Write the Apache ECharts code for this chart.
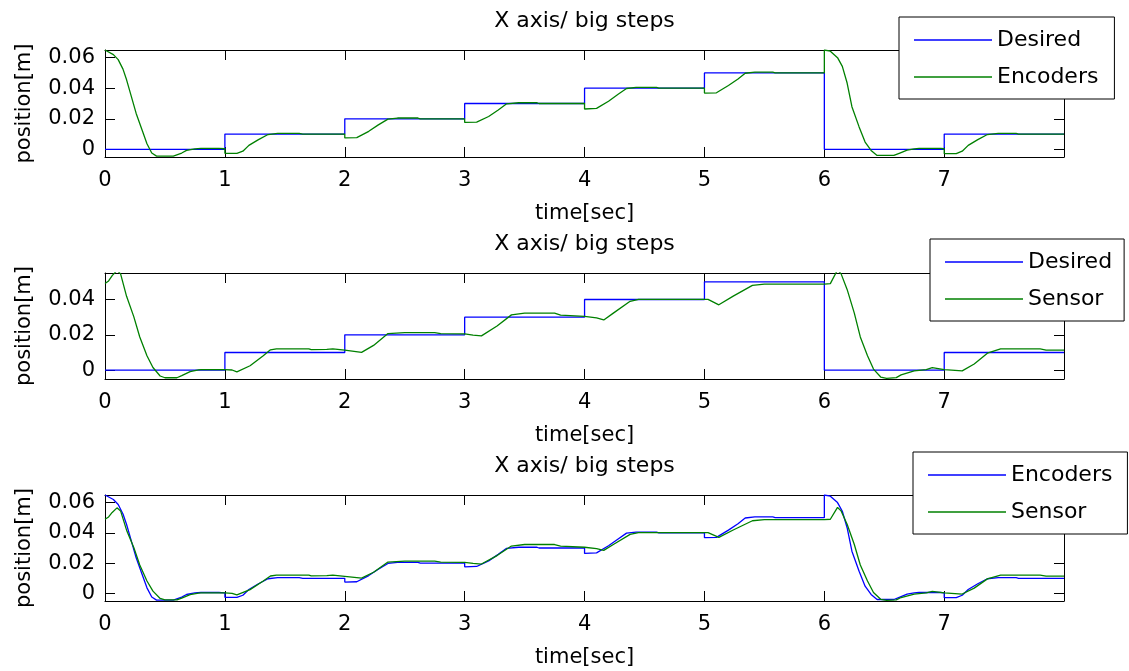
<!DOCTYPE html>
<html>
<head>
<meta charset="utf-8">
<title>X axis / big steps</title>
<script src="https://cdn.jsdelivr.net/npm/echarts@6/dist/echarts.min.js"></script>
<style>
html, body { margin: 0; padding: 0; background: #fff; }
#chart { width: 1129px; height: 671px; }
</style>
</head>
<body>
<div id="chart"></div>
<script>
// values: [time, position]
var desired = [[0, 0], [1, 0.01], [2, 0.02], [3, 0.03], [4, 0.04], [5, 0.05], [6, 0], [7, 0.01], [7.999, 0.01]];

var encoders = [
  [0, 0.065], [0.07, 0.062], [0.11, 0.0587], [0.15, 0.0525], [0.18, 0.0455], [0.22, 0.0345], [0.26, 0.0235],
  [0.31, 0.0125], [0.35, 0.0037], [0.39, -0.0024], [0.43, -0.0044], [0.57, -0.0044], [0.64, -0.0024],
  [0.68, -0.0007], [0.75, 0.0003], [0.8, 0.0006], [0.95, 0.0006], [1, 0.0004],
  [1, -0.0026], [1.1, -0.0026], [1.15, -0.0012], [1.2, 0.0026], [1.28, 0.0064], [1.36, 0.0097], [1.44, 0.0104],
  [1.62, 0.0104], [1.65, 0.01], [2, 0.01],
  [2, 0.0075], [2.1, 0.0077], [2.2, 0.0118], [2.28, 0.016], [2.36, 0.0198], [2.44, 0.0205], [2.61, 0.0205],
  [2.63, 0.02], [3, 0.02],
  [3, 0.0176], [3.1, 0.0178], [3.2, 0.0215], [3.28, 0.0258], [3.35, 0.0298], [3.45, 0.0305], [3.6, 0.0305],
  [3.62, 0.03], [4, 0.03],
  [4, 0.0264], [4.1, 0.0268], [4.2, 0.0315], [4.28, 0.036], [4.35, 0.0398], [4.43, 0.0405], [4.6, 0.0405],
  [4.62, 0.04], [5, 0.04],
  [5, 0.0368], [5.1, 0.037], [5.2, 0.0418], [5.28, 0.046], [5.34, 0.0498], [5.42, 0.0505], [5.57, 0.0505],
  [5.59, 0.05], [6, 0.05],
  [6, 0.065], [6.05, 0.0642], [6.11, 0.06], [6.15, 0.0543], [6.19, 0.0434], [6.23, 0.0279], [6.29, 0.0147],
  [6.34, 0.0048], [6.39, -0.0007], [6.44, -0.004], [6.58, -0.004], [6.63, -0.0024], [6.69, -0.0005],
  [6.75, 0.0003], [6.79, 0.0006], [6.97, 0.0006], [7, 0.0004],
  [7, -0.0028], [7.1, -0.0028], [7.15, -0.0012], [7.2, 0.0026], [7.28, 0.0064], [7.36, 0.0097], [7.45, 0.0104],
  [7.6, 0.0104], [7.62, 0.01], [7.999, 0.01]
];

var sensor = [
  [0, 0.049], [0.03, 0.0505], [0.06, 0.0535], [0.1, 0.0565], [0.13, 0.0545], [0.18, 0.0418], [0.24, 0.0303],
  [0.29, 0.0188], [0.35, 0.0082], [0.4, 0.0015], [0.46, -0.0033], [0.5, -0.0043], [0.6, -0.0043],
  [0.64, -0.0031], [0.71, -0.0008], [0.78, 0.0002], [0.79, 0.0012], [0.8, 0.0003], [1, 0.0003],
  [1.06, 0.0001], [1.1, -0.001], [1.21, 0.0025], [1.32, 0.0082], [1.38, 0.0115], [1.43, 0.0121],
  [1.7, 0.0121], [1.72, 0.0116], [1.85, 0.0118], [1.9, 0.0121], [2, 0.0113], [2.14, 0.0101], [2.24, 0.014],
  [2.36, 0.0207], [2.5, 0.0213], [2.75, 0.0213], [2.8, 0.0207], [3, 0.0205], [3.07, 0.0198], [3.14, 0.0194],
  [3.27, 0.025], [3.39, 0.0313], [3.5, 0.0323], [3.75, 0.0323], [3.8, 0.0312], [4, 0.0305], [4.1, 0.0296],
  [4.16, 0.0284], [4.24, 0.0323], [4.38, 0.039], [4.45, 0.0401], [5.03, 0.0401], [5.12, 0.037],
  [5.24, 0.0419], [5.4, 0.048], [5.5, 0.0487], [6, 0.0487], [6.05, 0.049], [6.11, 0.0568], [6.14, 0.0545],
  [6.19, 0.0457], [6.25, 0.0323], [6.3, 0.0188], [6.36, 0.0082], [6.41, 0.0006], [6.47, -0.0039],
  [6.52, -0.0046], [6.6, -0.0042], [6.64, -0.0027], [6.75, -0.0004], [6.85, 0.0003], [6.9, 0.0014],
  [6.91, 0.0003], [7, 0.0003], [7.15, -0.0004], [7.25, 0.0035], [7.36, 0.0096], [7.47, 0.0121],
  [7.8, 0.0121], [7.85, 0.0114], [7.999, 0.0114]
];

var yTicksA = [0, 0.02, 0.04, 0.06];
var yTicksB = [0, 0.02, 0.04];
var yRanges = [[-0.005, 0.065], [-0.005, 0.055], [-0.005, 0.065]];
var titleText = 'X axis/ big steps';

var FONT = 'DejaVu Sans';
var BLUE = '#0000ff';
var GREEN = '#008000';

var chart = echarts.init(document.getElementById('chart'));

var gridTops = [50, 273, 495];
var gridHeights = [107, 106, 106];
var titleTops = [10, 233, 455];

var grids = [], xAxes = [], yAxes = [], titles = [];
for (var i = 0; i < 3; i++) {
  grids.push({ left: 105, right: 65, top: gridTops[i], height: gridHeights[i] });
  titles.push({
    text: titleText, left: 584.5, top: titleTops[i], textAlign: 'center', padding: 0,
    textStyle: { fontFamily: FONT, fontSize: 22, fontWeight: 'normal', color: '#000' }
  });
  var line = { show: true, onZero: false, lineStyle: { color: '#000', width: 1 } };
  // bottom x axis
  xAxes.push({
    gridIndex: i, type: 'value', position: 'bottom', min: 0, max: 7.999, interval: 1,
    axisLine: line, splitLine: { show: false },
    axisTick: { inside: true, length: 10, lineStyle: { color: '#000' } },
    axisLabel: { margin: 13, fontFamily: FONT, fontSize: 21, color: '#000', showMaxLabel: false },
    name: 'time[sec]', nameLocation: 'middle', nameGap: 46,
    nameTextStyle: { fontFamily: FONT, fontSize: 21, color: '#000' }
  });
  // top x axis (box)
  xAxes.push({
    gridIndex: i, type: 'value', position: 'top', min: 0, max: 7.999, interval: 1,
    axisLine: line, splitLine: { show: false },
    axisTick: { inside: true, length: 10, lineStyle: { color: '#000' } },
    axisLabel: { show: false }
  });
  var ticks = i === 1 ? yTicksB : yTicksA;
  yAxes.push({
    gridIndex: i, type: 'value', position: 'left', min: yRanges[i][0], max: yRanges[i][1],
    axisLine: line, splitLine: { show: false },
    axisTick: { inside: true, length: 10, customValues: ticks, lineStyle: { color: '#000' } },
    axisLabel: { margin: 10, customValues: ticks, fontFamily: FONT, fontSize: 21, color: '#000' },
    name: 'position[m]', nameLocation: 'middle', nameGap: 70,
    nameTextStyle: { fontFamily: FONT, fontSize: 21, color: '#000' }
  });
  yAxes.push({
    gridIndex: i, type: 'value', position: 'right', min: yRanges[i][0], max: yRanges[i][1],
    axisLine: line, splitLine: { show: false },
    axisTick: { inside: true, length: 10, customValues: ticks, lineStyle: { color: '#000' } },
    axisLabel: { show: false }
  });
}

function mkSeries(name, data, color, idx, step) {
  return {
    name: name, type: 'line', data: data, xAxisIndex: idx * 2, yAxisIndex: idx * 2,
    step: step || false, symbol: 'none', showSymbol: false, clip: true,
    lineStyle: { color: color, width: 1.3 }, itemStyle: { color: color }
  };
}

// legend keys drawn as thin rects, like matlab line samples
function mkLegend(data, left, top, pad) {
  return {
    data: data, orient: 'vertical', left: left, top: top, padding: pad,
    icon: 'rect', itemWidth: 78, itemHeight: 1.5, itemGap: 15,
    backgroundColor: '#fff', borderColor: '#000', borderWidth: 1, borderRadius: 0,
    textStyle: { fontFamily: FONT, fontSize: 22, color: '#000' }
  };
}

var option = {
  animation: false,
  backgroundColor: '#fff',
  title: titles,
  grid: grids,
  xAxis: xAxes,
  yAxis: yAxes,
  legend: [
    mkLegend(['Desired', 'Encoders'], 899, 17, [12, 16, 11, 15]),
    mkLegend(['Desired', 'Sensor'], 930, 239, [12, 12, 11, 15]),
    mkLegend([{ name: 'Encoders', itemStyle: { color: BLUE } }, 'Sensor'], 913, 452, [12, 15, 11, 15])
  ],
  series: [
    mkSeries('Desired', desired, BLUE, 0, 'end'),
    mkSeries('Encoders', encoders, GREEN, 0),
    mkSeries('Desired', desired, BLUE, 1, 'end'),
    mkSeries('Sensor', sensor, GREEN, 1),
    mkSeries('Encoders', encoders, BLUE, 2),
    mkSeries('Sensor', sensor, GREEN, 2)
  ]
};

chart.setOption(option);
</script>
</body>
</html>
